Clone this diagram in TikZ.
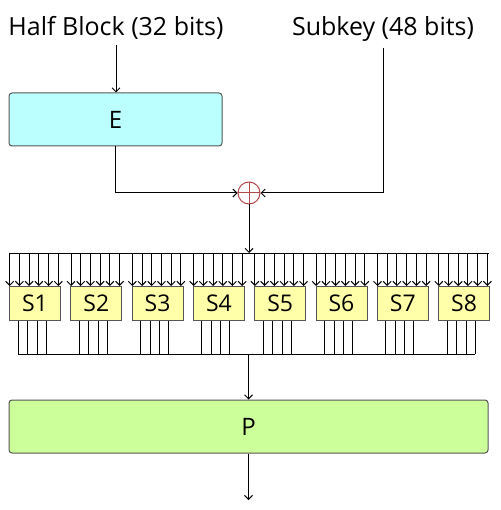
\documentclass[tikz,border=0pt]{standalone}
\usepackage{fontspec}
\setmainfont{Open Sans}
\usepackage{xcolor}
\usetikzlibrary{arrows.meta}
\definecolor{Ebox}{HTML}{BBFFFF}
\definecolor{Pbox}{HTML}{CCFF99}
\definecolor{Sfill}{HTML}{FFFFAA}
\definecolor{Frame}{HTML}{555555}
\definecolor{Xred}{HTML}{B04848}

\begin{document}
\begin{tikzpicture}[x=1pt,y=-1pt,line width=1pt,
  >={Straight Barb[length=4pt,width=8pt]},
  heading/.style={font=\fontsize{25}{30}\selectfont,inner xsep=0pt,inner ysep=5pt},
  stage/.style={draw=Frame,rounded corners=3pt,inner sep=0pt,minimum height=53pt,
    font=\fontsize{24}{28}\selectfont},
  sbox/.style={draw=Frame,fill=Sfill,inner sep=0pt,minimum width=51pt,minimum height=34pt,
    font=\fontsize{23}{27}\selectfont},
  xorop/.style={circle,draw=Xred,minimum size=22pt,inner sep=0pt,
    path picture={\draw[Xred] (path picture bounding box.north) -- (path picture bounding box.south)
      (path picture bounding box.west) -- (path picture bounding box.east);}}]
  \useasboundingbox (0,0) rectangle (500,510);

  % Inputs
  \node[heading,anchor=base] (half) at (116,36) {Half Block (32 bits)};
  \node[heading,anchor=base] (key) at (383,36) {Subkey (48 bits)};

  % Expansion
  \node[stage,fill=Ebox,minimum width=213pt] (E) at (115.5,119.5) {E};
  \draw[->] (half.south) -- (half.south |- E.north);

  % Key mixing
  \node[xorop] (xor) at (249,193) {};
  \draw[->] (E.south) |- (xor.west);
  \draw[->] (key.south) |- (xor.east);

  % Substitution
  \foreach \i in {1,...,8}{
    \pgfmathsetmacro{\xl}{9+(\i-1)*61.3}
    \node[sbox,anchor=north west] (S\i) at (\xl,286) {S\i};
    \foreach \j in {0,...,5}
      \draw[<-] ([xshift=0.7pt+\j*9.72pt]S\i.north west) -- ++(0,-33);
    \foreach \k in {9,18.5,28,37}
      \draw ([xshift=\k pt]S\i.south west) -- ++(0,33);
  }
  \coordinate (inbus) at ([xshift=0.7pt,yshift=33pt]S1.north west);
  \coordinate (inbusend) at ([xshift=-0.7pt,yshift=33pt]S8.north east);
  \coordinate (outbus) at ([xshift=9pt,yshift=-33pt]S1.south west);
  \coordinate (outbusend) at ([xshift=37pt,yshift=-33pt]S8.south west);
  \draw (inbus) -- (inbusend);
  \draw (outbus) -- (outbusend);
  \draw[->] (xor.south) -- (xor.south |- inbus);

  % Permutation
  \node[stage,fill=Pbox,minimum width=479pt] (P) at (248.5,426.5) {P};
  \draw[->] (P.north |- outbus) -- (P.north);
  \coordinate (out) at (248.5,500);
  \draw[->] (P.south) -- (out);
\end{tikzpicture}
\end{document}
